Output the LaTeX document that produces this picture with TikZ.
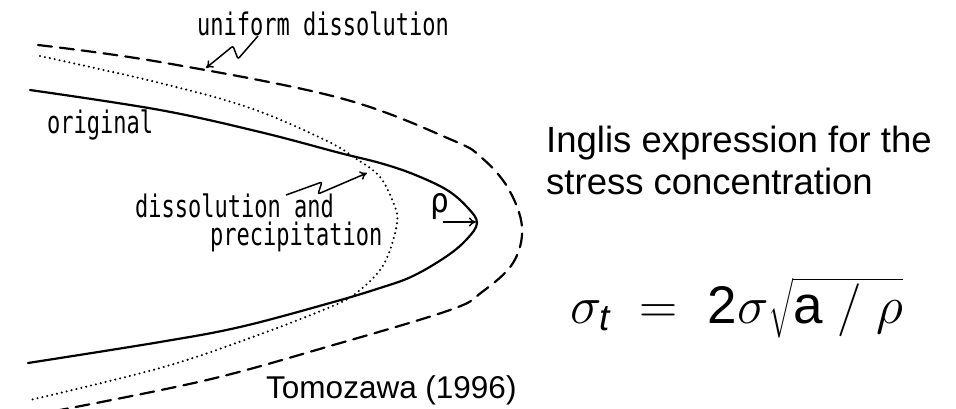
\RequirePackage{fix-cm}
\documentclass[tikz,border=0pt]{standalone}
\usepackage{amsmath}
\usepackage{exscale}
\usepackage{fontspec}
\setmainfont{Liberation Sans}
\newfontfamily\sketchfont{DejaVu Sans Mono}
\usetikzlibrary{arrows.meta}

\begin{document}
\begin{tikzpicture}[x=1pt,y=-1pt,
  lbl/.style={font=\sketchfont\fontsize{31}{34}\selectfont,inner sep=0pt,anchor=base west,xscale=0.71,transform shape},
  txt/.style={font=\fontsize{36.5}{42}\selectfont,inner sep=0pt,anchor=base west},
  profile/.style={line width=2.2pt,line cap=round,line join=round},
  ptr/.style={line width=1.5pt,rounded corners=2pt,-{To[length=7pt,width=9pt]}}]
\useasboundingbox (0,0) rectangle (956,408);

% crack profiles
\draw[profile] plot[smooth,tension=0.6] coordinates {(30,90) (160,110) (260,132) (340,153) (380,163) (413,174) (447,190) (468,208) (477,223) (467,239) (447,256) (413,276) (380,288) (330,303) (240,327) (160,342) (28,363)};
\draw[profile,dash pattern=on 14pt off 8pt] plot[smooth,tension=0.6] coordinates {(38,45) (160,62) (340,98) (452,140) (482,158) (508,188) (522,227) (513,263) (482,292) (450,310) (330,346) (207,380) (60,410)};
\draw[profile,line width=2.3pt,dash pattern=on 0pt off 5pt] plot[smooth,tension=0.6] coordinates {(40,56) (160,83) (250,108) (325,140) (355,158) (380,177) (395,207) (397,223) (390,250) (380,270) (360,290) (335,305) (250,338) (160,368) (30,400)};

% labels
\node[lbl] (unif) at (197,35) {uniform dissolution};
\node[lbl] (orig) at (47,133) {original};
\node[lbl] (dis) at (135,217) {dissolution and};
\node[lbl] (prec) at (210,245) {precipitation};
\node[lbl,xscale=1.3,font=\sketchfont\fontsize{34}{34}\selectfont] (rho) at (430,212) {ρ};

\coordinate (u0) at (258,36);
\coordinate (u1) at (206,68);
\coordinate (d0) at (286,195);
\coordinate (d1) at (367,173);
\coordinate (r0) at (443,222);
\coordinate (tip) at (476,222);
\draw[ptr] (u0) -- (238,59) -- (233,46) -- (u1);
\draw[ptr] (d0) -- (322,182) -- (318,194) -- (d1);
\draw[ptr] (r0) -- (tip);

% Inglis
\node[txt] (ing) at (546,152) {Inglis expression for the};
\node[txt] (str) at (546,194) {stress concentration};
\node[inner sep=0pt,anchor=base west,font=\fontsize{53}{60}\selectfont] (eq) at (570,323)
  {$\sigma_{\text{\itshape t}}\;=\;\text{2}\sigma\sqrt{\text{a}\;/\;\rho}$};
\node[inner sep=0pt,anchor=base west,font=\fontsize{31.5}{36}\selectfont] (ref) at (266,398) {Tomozawa (1996)};
\end{tikzpicture}
\end{document}
